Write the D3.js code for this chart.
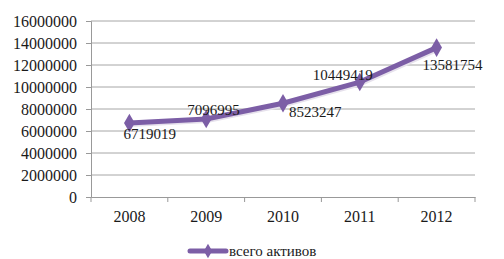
<!DOCTYPE html>
<meta charset="utf-8">
<script src="https://d3js.org/d3.v7.min.js"></script>
<style>
  body { margin: 0; background: #fff; }
  text { font-family: "Liberation Serif", "Times New Roman", serif; fill: #1a1a1a; }
</style>
<div id="chart"></div>
<script>
// data
var years = ["2008", "2009", "2010", "2011", "2012"];
var totalAssets = [6719019, 7096995, 8523247, 10449419, 13581754];
var yTicks = [0, 2000000, 4000000, 6000000, 8000000, 10000000, 12000000, 14000000, 16000000];
var seriesName = "всего активов";

// label placement relative to each point (dx, dy)
var labelOffsets = [[-6, 16], [-19, -4], [6, 14], [-47, -2], [-14, 22]];

var W = 504, H = 259;
var plot = {left: 91, right: 475, top: 21, bottom: 197};
var purple = "#7c5ea6";

var svg = d3.select("#chart").append("svg")
  .attr("width", W).attr("height", H);

var x = d3.scaleBand().domain(years).range([plot.left, plot.right]);
var y = d3.scaleLinear().domain([0, 16000000]).range([plot.bottom, plot.top]);

// gridlines
svg.append("g").selectAll("line")
  .data(yTicks.slice(1))
  .enter().append("line")
  .attr("x1", plot.left).attr("x2", plot.right)
  .attr("y1", function(d) { return y(d); })
  .attr("y2", function(d) { return y(d); })
  .attr("stroke", "#a6a6a6").attr("stroke-width", 1);

// y axis
var yAxis = svg.append("g")
  .attr("transform", "translate(" + plot.left + ",0)")
  .call(d3.axisLeft(y).tickValues(yTicks).tickFormat(d3.format("d")).tickSize(5).tickPadding(9));
yAxis.select(".domain").attr("stroke", "#999");
yAxis.selectAll(".tick line").attr("stroke", "#999");
yAxis.selectAll("text").style("font-size", "16px").attr("fill", "#1a1a1a").style("font-family", "Liberation Serif");

// x axis
var xAxis = svg.append("g")
  .attr("transform", "translate(0," + plot.bottom + ")")
  .call(d3.axisBottom(x).tickSize(0).tickPadding(14));
xAxis.select(".domain").attr("stroke", "#999");
xAxis.selectAll("text").style("font-size", "16px").attr("fill", "#1a1a1a").style("font-family", "Liberation Serif");
// category boundary ticks
xAxis.selectAll(".bound")
  .data(years.concat(["end"]))
  .enter().append("line")
  .attr("x1", function(d, i) { return plot.left + i * x.step(); })
  .attr("x2", function(d, i) { return plot.left + i * x.step(); })
  .attr("y1", 0).attr("y2", 5)
  .attr("stroke", "#999");

// line
var pts = years.map(function(yr, i) {
  return { year: yr, value: totalAssets[i], off: labelOffsets[i] };
});
var line = d3.line()
  .x(function(d) { return x(d.year) + x.bandwidth() / 2; })
  .y(function(d) { return y(d.value); });

svg.append("path")
  .datum(pts)
  .attr("d", line)
  .attr("fill", "none")
  .attr("stroke", "#e6e1ec")
  .attr("stroke-width", 5)
  .attr("transform", "translate(1,1.5)");
svg.append("path")
  .datum(pts)
  .attr("d", line)
  .attr("fill", "none")
  .attr("stroke", purple)
  .attr("stroke-width", 5)
  .attr("stroke-linejoin", "round");

var diamond = d3.symbol().type(d3.symbolDiamond).size(100);
svg.append("g").selectAll("path")
  .data(pts)
  .enter().append("path")
  .attr("d", diamond)
  .attr("transform", function(d) {
    return "translate(" + (x(d.year) + x.bandwidth() / 2) + "," + y(d.value) + ")";
  })
  .attr("fill", purple);

// data labels
svg.append("g").selectAll("text")
  .data(pts)
  .enter().append("text")
  .attr("x", function(d) { return x(d.year) + x.bandwidth() / 2 + d.off[0]; })
  .attr("y", function(d) { return y(d.value) + d.off[1]; })
  .style("font-size", "15px")
  .text(function(d) { return d.value; });

// legend
var lg = svg.append("g").attr("transform", "translate(190,251)");
lg.append("line").attr("x1", 0).attr("x2", 36).attr("y1", 0).attr("y2", 0)
  .attr("stroke", purple).attr("stroke-width", 5).attr("stroke-linecap", "round");
lg.append("path").attr("d", d3.symbol().type(d3.symbolDiamond).size(60)).attr("transform", "translate(18,0)").attr("fill", purple);
lg.append("text").attr("x", 39).attr("y", 5).style("font-size", "15px").text(seriesName);
</script>
